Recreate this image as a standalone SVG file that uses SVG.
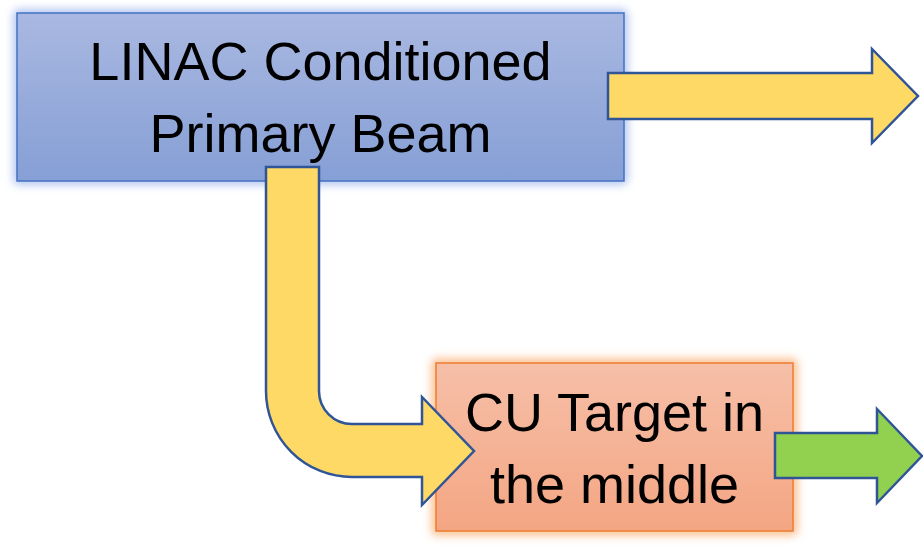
<svg xmlns="http://www.w3.org/2000/svg" width="923" height="549" viewBox="0 0 923 549">
  <defs>
    <linearGradient id="gBlue" x1="0" y1="0" x2="0" y2="1">
      <stop offset="0" stop-color="#a9b8e1"/>
      <stop offset="1" stop-color="#869fd5"/>
    </linearGradient>
    <linearGradient id="gOrange" x1="0" y1="0" x2="0" y2="1">
      <stop offset="0" stop-color="#f6bfa8"/>
      <stop offset="1" stop-color="#f4a683"/>
    </linearGradient>
    <filter id="glow" x="-20%" y="-20%" width="140%" height="140%">
      <feGaussianBlur stdDeviation="4"/>
    </filter>
  </defs>
  <style>
    .lbl { font-family: "Liberation Sans", Arial, sans-serif; font-size: 54px; fill: #000; text-anchor: middle; }
    .arrow { stroke: #2f5597; stroke-width: 2.5; stroke-linejoin: miter; }
    .yellow { fill: #ffd966; }
    .green { fill: #92d050; }
  </style>
  <rect width="923" height="549" fill="#ffffff"/>
  <g id="node-linac">
    <rect x="13" y="9" width="615" height="176" rx="6" fill="#b4c7f0" filter="url(#glow)"/>
    <rect x="17" y="13" width="607" height="168" fill="url(#gBlue)" stroke="#4472c4" stroke-width="1.5"/>
    <text class="lbl" x="320.5" y="80">LINAC Conditioned</text>
    <text class="lbl" x="320.5" y="152">Primary Beam</text>
  </g>
  <g id="node-target">
    <rect x="431" y="358" width="367" height="178" rx="6" fill="#fbc59a" filter="url(#glow)"/>
    <rect x="436" y="363" width="357" height="168" fill="url(#gOrange)" stroke="#ed7d31" stroke-width="1.5"/>
    <text class="lbl" x="614.5" y="431">CU Target in</text>
    <text class="lbl" x="614.5" y="503">the middle</text>
  </g>
  <g id="connectors">
    <path class="arrow yellow" d="M608,73 L872,73 L872,49 L918,96 L872,143 L872,119 L608,119 Z"/>
    <path class="arrow yellow" d="M266,167 L319,167 L319,391 A33,33 0 0 0 352,424 L422,424 L422,397 L474,451 L422,505 L422,477 L352,477 A86,86 0 0 1 266,391 Z"/>
    <path class="arrow green" d="M775,433 L877,433 L877,409 L922,456 L877,503 L877,478 L775,478 Z"/>
  </g>
</svg>
